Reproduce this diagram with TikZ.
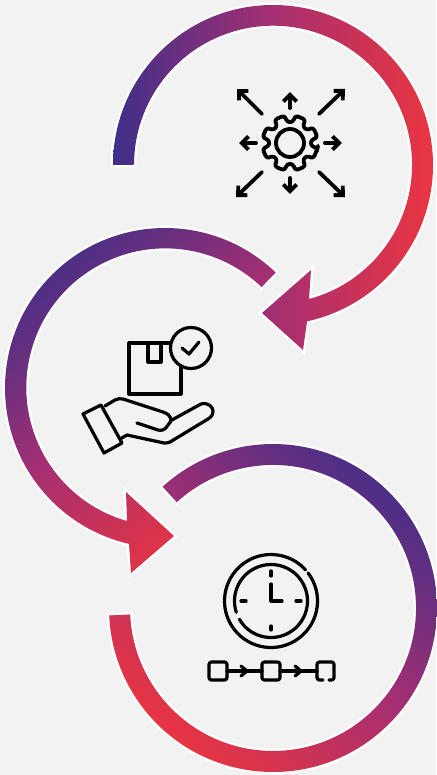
\documentclass[tikz,border=0pt]{standalone}
\usepackage{xcolor}
\usepackage{tikz}
\usetikzlibrary{arrows.meta}

\definecolor{bgpage}{HTML}{F2F2F2}
\definecolor{ringblue}{HTML}{3F2F88}
\definecolor{ringmag}{HTML}{A52F72}
\definecolor{ringred}{HTML}{EA3540}
\pgfdeclarehorizontalshading{ringshade}{100bp}{%
  color(0bp)=(ringblue); color(25bp)=(ringblue); color(50bp)=(ringmag);
  color(75bp)=(ringred); color(100bp)=(ringred)}

\begin{document}
\begin{tikzpicture}[
    x=0.025cm, y=-0.025cm,
    >={Straight Barb[length=0.17cm,width=0.33cm]},
    ring/.style={shading=ringshade, preaction={draw=white, line width=0.12cm, miter limit=6}},
    icon/.style={draw=black, line width=0.095cm, line cap=round, line join=round},
    thin icon/.style={icon, line width=0.08cm},
  ]
  %% ---- Page ----
  \useasboundingbox (0,0) rectangle (436,775);
  \fill[bgpage] (0,0) rectangle (436,775);
  %% ---- Ring centres ----
  \coordinate (c1) at (273,165);
  \coordinate (c2) at (165,388);
  \coordinate (c3) at (273,608);
  %% ---- Rings ----
  % Top ring, head points left
  \coordinate (a1) at (303,350); \coordinate (a2) at (262,313);
  \coordinate (a3) at (311,270); \coordinate (a4) at (309,299);
  \shade[ring, shading angle=0] (c1) ++(180:160) arc[start angle=180, end angle=437.7, radius=160]
    -- (a1) -- (a2) -- (a3) -- (a4)
    arc[start angle=435, end angle=180, radius=139] -- cycle;
  % Middle ring, head points right
  \coordinate (b1) at (131,573); \coordinate (b2) at (174,536);
  \coordinate (b3) at (126,492); \coordinate (b4) at (127,521);
  \shade[ring, shading angle=-50] (c2) ++(-46.2:160) arc[start angle=-46.2, end angle=-257, radius=160]
    -- (b1) -- (b2) -- (b3) -- (b4)
    arc[start angle=-254, end angle=-46.2, radius=139] -- cycle;
  % Bottom ring
  \shade[ring, shading angle=-130] (c3) ++(-132.3:164) arc[start angle=-132.3, end angle=177.4, radius=164]
    -- ++(21,-1)
    arc[start angle=177.4, end angle=-132.3, radius=143] -- cycle;
  %% ---- Gear icon ----
  \coordinate (gear) at (290,143);
  \draw[icon, rounded corners=0.07cm] (gear) ++(11:28)
    \foreach \a in {22.5,67.5,...,337.5} {
      -- ([shift={(\a-11:28)}]gear) -- ([shift={(\a+11:28)}]gear)
      -- ([shift={(\a+15:21)}]gear) -- ([shift={(\a+30:21)}]gear)
    } -- cycle;
  \draw[icon] (gear) circle[radius=14];
  \draw[icon, ->] (290,108) -- (290,92);
  \draw[icon, ->] (290,178) -- (290,194);
  \draw[icon, ->] (256,143) -- (239,143);
  \draw[icon, ->] (325,143) -- (342,143);
  \draw[icon, ->] (262,114) -- (237,89);
  \draw[icon, ->] (319,114) -- (345,89);
  \draw[icon, ->] (262,172) -- (236,197);
  \draw[icon, ->] (319,172) -- (345,197);
  %% ---- Box and hand icon ----
  \draw[thin icon] (129,343) rectangle (181,394);
  \draw[thin icon] (148,343) -- (148,362) -- (161,362) -- (161,343);
  \draw[thin icon, fill=bgpage] (191,348) circle[radius=20.5];
  \draw[thin icon] (182,348) -- (189,354) -- (199,342);
  % Hand
  \draw[thin icon] (83,414) -- (101,405) -- (122,443) -- (104,453) -- cycle;
  \draw[thin icon] (105,406) -- (115,400) .. controls (118,398) and (120,399) .. (123,399)
    -- (163,412) .. controls (172,415) and (173,421) .. (168,425)
    .. controls (165,430) and (162,431) .. (158,430) -- (137,423);
  \draw[thin icon] (170,421) -- (201,404) .. controls (208,402) and (213,407) .. (213,411)
    .. controls (213,415) and (211,417) .. (208,419) -- (170,442)
    .. controls (168,443) and (166,443) .. (164,443) -- (127,435) -- (120,439);
  %% ---- Clock icon ----
  \coordinate (clock) at (271,601);
  \draw[thin icon] (clock) ++(-37:46.5) arc[start angle=-37, end angle=-42+360, radius=46.5];
  \draw[thin icon] (clock) ++(150:36.5) arc[start angle=150, end angle=-198, radius=36.5];
  \draw[thin icon] (271,571) -- (271,576);
  \draw[thin icon] (271,626) -- (271,630);
  \draw[thin icon] (241,601) -- (246,601);
  \draw[thin icon] (296,601) -- (301,601);
  \draw[thin icon] (271,584) -- (271,601) -- (282,601);
  %% ---- Chain under the clock ----
  \draw[thin icon, rounded corners=0.06cm] (209,662) rectangle (227,680);
  \draw[thin icon, rounded corners=0.06cm] (262,662) rectangle (280,680);
  \draw[thin icon, rounded corners=0.06cm] (323,680) -- (317,680) -- (317,662) -- (334,662) -- (334,680) -- (329,680);
  \draw[thin icon] (227,671) -- (262,671);
  \draw[thin icon] (280,671) -- (317,671);
  \draw[thin icon] (241,666) -- (247,671) -- (241,676);
  \draw[thin icon] (295,666) -- (301,671) -- (295,676);
\end{tikzpicture}
\end{document}
